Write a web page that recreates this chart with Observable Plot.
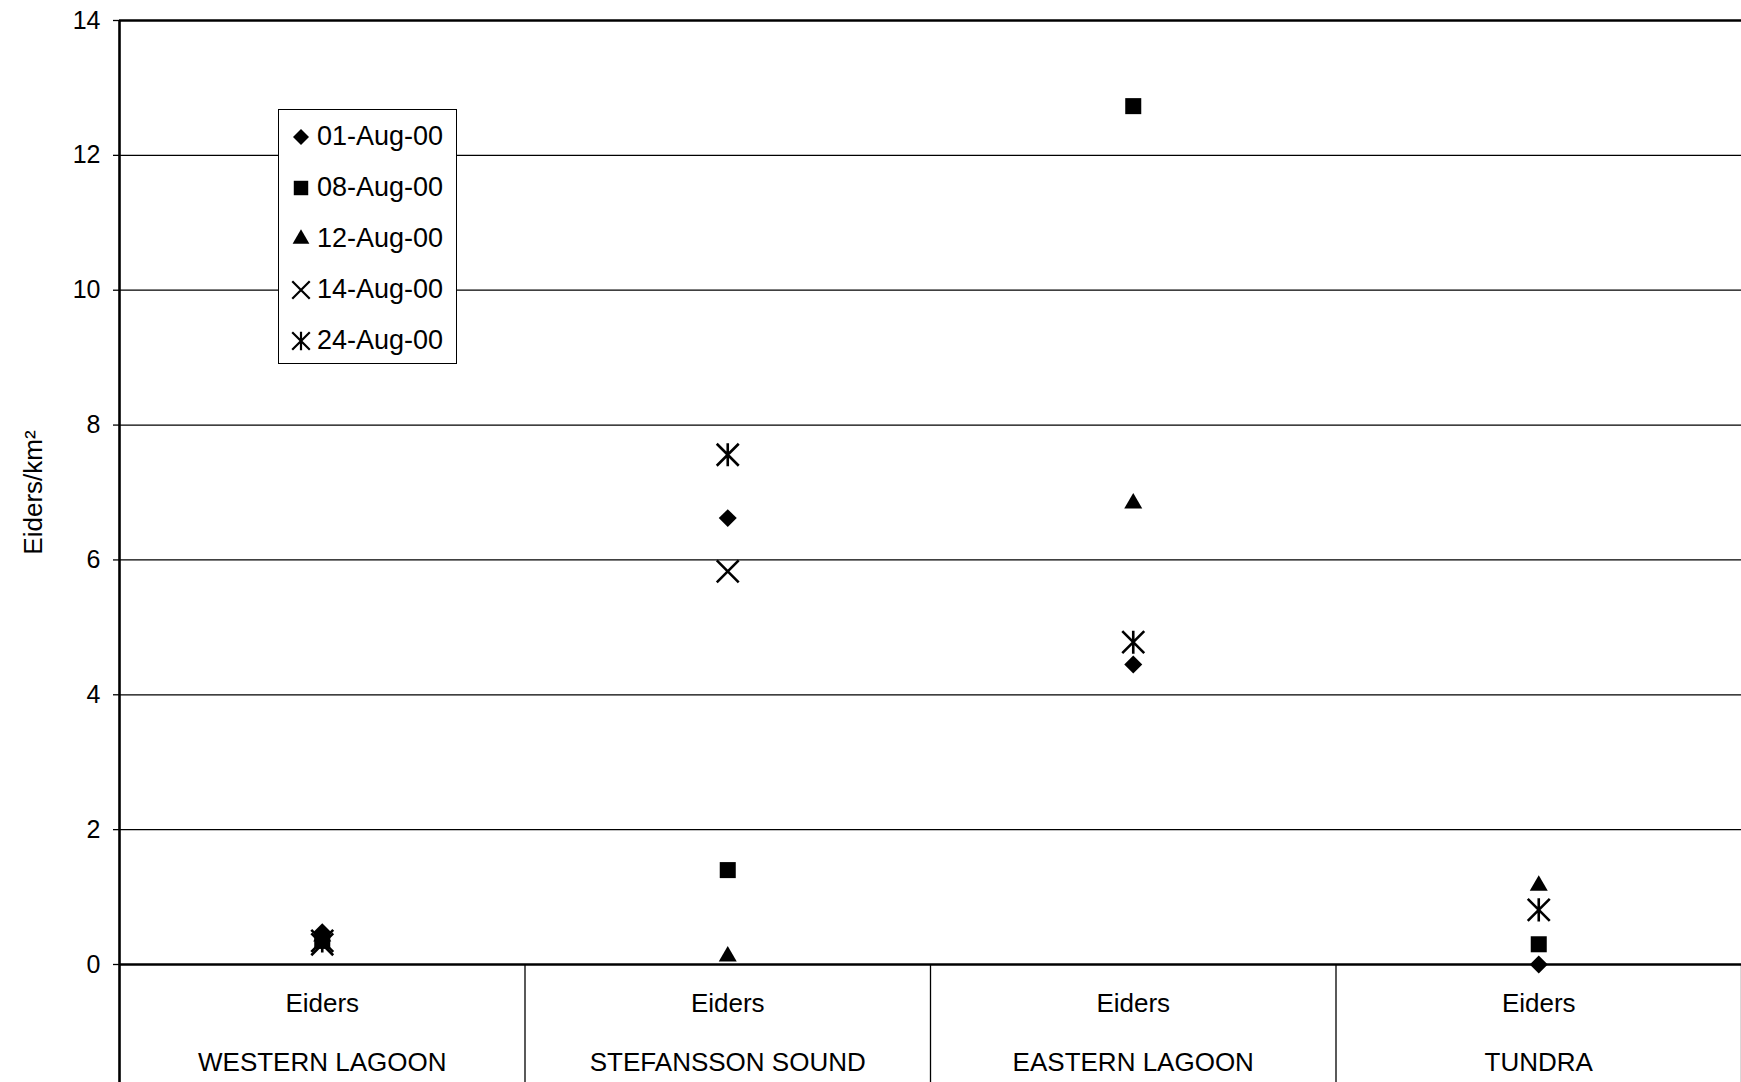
<!DOCTYPE html>
<html><head><meta charset="utf-8">
<script src="https://cdn.jsdelivr.net/npm/d3@7"></script>
<script src="https://cdn.jsdelivr.net/npm/@observablehq/plot@0.6"></script>
<style>
body{margin:0;background:#fff;font-family:"Liberation Sans",Arial,sans-serif;}
#wrap{position:relative;width:1741px;height:1082px;overflow:hidden;}
#legend{position:absolute;left:278px;top:109px;width:177px;height:253px;border:1.5px solid #000;background:#fff;}
.item{position:absolute;left:0;height:40px;display:flex;align-items:center;font-size:27px;color:#000;}
.item svg{display:block;}
</style></head><body><div id="wrap"></div>
<script>
// ---- data ----
const locations = ["WESTERN LAGOON", "STEFANSSON SOUND", "EASTERN LAGOON", "TUNDRA"];
const categoryLabel = "Eiders";
const dates = ["01-Aug-00", "08-Aug-00", "12-Aug-00", "14-Aug-00", "24-Aug-00"];
const aug01 = [0.48, 6.62, 4.45, 0.0];
const aug08 = [0.35, 1.40, 12.73, 0.30];
const aug12 = [0.42, 0.12, 6.84, 1.17];
const aug14 = [0.30, 5.83, null, null];
const aug24 = [0.35, 7.56, 4.78, 0.81];
const yTicks = [0, 2, 4, 6, 8, 10, 12, 14];
const yLabel = "Eiders/km\u00B2";

// ---- build ----
const series = [aug01, aug08, aug12, aug14, aug24];
const rows = [];
series.forEach((vals, j) => vals.forEach((v, i) => {
  if (v != null) rows.push({date: dates[j], loc: i, x: i + 0.5, y: v});
}));
const boundaries = d3.range(locations.length + 1);
const centers = locations.map((_, i) => i + 0.5);

const asteriskX = {
  draw(ctx, size) {
    const r = Math.sqrt(size) * 0.62;
    ctx.moveTo(-r, -r); ctx.lineTo(r, r);
    ctx.moveTo(-r, r); ctx.lineTo(r, -r);
    ctx.moveTo(0, -r * 1.05); ctx.lineTo(0, r * 1.05);
  }
};
const symbolRange = [d3.symbolDiamond2, d3.symbolSquare2, d3.symbolTriangle2, d3.symbolTimes, asteriskX];
const symbolR = [8.1, 10.2, 8.6, 10, 10];
const filled = [true, true, true, false, false];

const dotMarks = dates.map((d, j) => Plot.dot(rows.filter(r => r.date === d), {
  x: "x", y: "y", symbol: "date", r: symbolR[j],
  fill: filled[j] ? "black" : "none",
  stroke: filled[j] ? "none" : "black",
  strokeWidth: filled[j] ? 0 : 2.6
}));

const chart = Plot.plot({
  width: 1741, height: 1082,
  marginLeft: 119, marginRight: 0, marginTop: 20, marginBottom: 118,
  style: {fontFamily: "'Liberation Sans', Arial, sans-serif", fontSize: "25px", color: "black", background: "white"},
  x: {type: "linear", domain: [0, locations.length]},
  y: {domain: [0, 14]},
  symbol: {domain: dates, range: symbolRange},
  marks: [
    Plot.ruleY(yTicks.filter(t => t > 0 && t < 14), {stroke: "black", strokeWidth: 1.3}),
    Plot.ruleY([14], {stroke: "black", strokeWidth: 2.5}),
    Plot.axisY(yTicks, {tickSize: 6, tickPadding: 13, fontSize: 25, strokeWidth: 1.3,
      tickFormat: d3.format("d"), label: null}),
    Plot.text([yLabel], {frameAnchor: "left", textAnchor: "middle", lineAnchor: "middle", rotate: -90, dx: -86, fontSize: 26}),
    Plot.axisX(boundaries.slice(1), {anchor: "bottom", tickSize: 118, tickFormat: () => "", strokeWidth: 1.3, label: null}),
    Plot.axisX([0], {anchor: "bottom", tickSize: 118, tickFormat: () => "", strokeWidth: 2.6, label: null}),
    Plot.axisX(centers, {anchor: "bottom", tickSize: 0, tickPadding: 6, fontSize: 26, lineHeight: 2.27,
      tickFormat: v => categoryLabel + "\n" + locations[Math.round(v - 0.5)], label: null}),
    Plot.ruleX([0], {y1: 0, y2: 14, stroke: "black", strokeWidth: 2.6}),
    Plot.ruleY([0], {stroke: "black", strokeWidth: 2.6}),
    ...dotMarks
  ]
});
const wrap = document.getElementById("wrap");
wrap.appendChild(chart);

// legend
const legend = document.createElement("div");
legend.id = "legend";
const legendR = [7.2, 9.2, 8.0, 8.0, 8.0];
dates.forEach((d, j) => {
  const item = document.createElement("div");
  item.className = "item";
  item.style.top = (26.5 + 51 * j - 20) + "px";
  const s = d3.create("svg").attr("width", 38).attr("height", 40);
  const size = Math.PI * legendR[j] * legendR[j];
  s.append("path")
    .attr("transform", "translate(22,20)")
    .attr("d", d3.symbol(symbolRange[j], size)())
    .attr("fill", filled[j] ? "black" : "none")
    .attr("stroke", filled[j] ? "none" : "black")
    .attr("stroke-width", filled[j] ? 0 : 2.2);
  item.appendChild(s.node());
  const t = document.createElement("span");
  t.textContent = d;
  item.appendChild(t);
  legend.appendChild(item);
});
wrap.appendChild(legend);
</script></body></html>
